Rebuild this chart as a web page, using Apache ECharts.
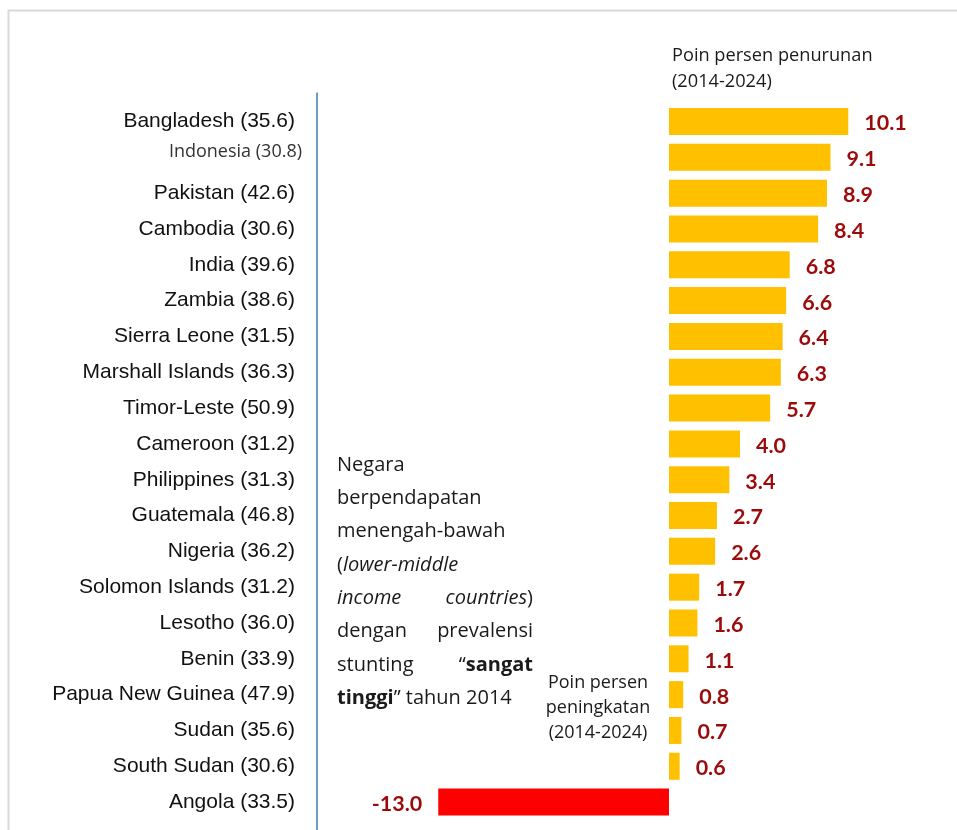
<!DOCTYPE html>
<html>
<head>
<meta charset="utf-8">
<title>Penurunan stunting 2014-2024</title>
<script src="https://cdn.jsdelivr.net/npm/echarts@6/dist/echarts.min.js"></script>
<style>
  html, body { margin: 0; padding: 0; background: #fff; }
  #chart { width: 957px; height: 830px; }
</style>
</head>
<body>
<div id="chart"></div>
<script>
// Countries (stunting prevalence 2014 in parentheses), top to bottom
const categories = [
  'Bangladesh (35.6)', 'Indonesia (30.8)', 'Pakistan (42.6)', 'Cambodia (30.6)',
  'India (39.6)', 'Zambia (38.6)', 'Sierra Leone (31.5)', 'Marshall Islands (36.3)',
  'Timor-Leste (50.9)', 'Cameroon (31.2)', 'Philippines (31.3)', 'Guatemala (46.8)',
  'Nigeria (36.2)', 'Solomon Islands (31.2)', 'Lesotho (36.0)', 'Benin (33.9)',
  'Papua New Guinea (47.9)', 'Sudan (35.6)', 'South Sudan (30.6)', 'Angola (33.5)'
];
// Percentage-point decrease 2014-2024 (negative = increase)
const changes = [
  10.1, 9.1, 8.9, 8.4, 6.8, 6.6, 6.4, 6.3, 5.7, 4.0,
  3.4, 2.7, 2.6, 1.7, 1.6, 1.1, 0.8, 0.7, 0.6, -13.0
];
// Label drawn in the highlighted style
const highlightedCategories = ['Indonesia (30.8)'];

// Layout
const W = 957, H = 830;
const unitPx = 17.75;           // pixels per percentage point
const xMin = -20, xMax = 15;
const zeroX = 669;
const gridLeft = zeroX + xMin * unitPx;      // 314
const gridWidth = (xMax - xMin) * unitPx;
const gridTop = 103.6, gridBottom = 10;
const sepX = gridLeft + 3;

const YELLOW = '#FFC000';
const RED = '#FF0000';
const VALUE_RED = '#9C0B0B';
const TEXT = '#1a1a1a';

const chart = echarts.init(document.getElementById('chart'), null, { renderer: 'canvas' });

const barData = changes.map(v => ({
  value: v,
  itemStyle: { color: v < 0 ? RED : YELLOW },
  label: { position: v < 0 ? 'left' : 'right' }
}));

// Annotation block (justified lines built from separate left/right pieces)
const blockLeft = 337, blockRight = 533, blockTop = 465, blockLine = 33.3;
const blockFont = 'Open Sans';
const blockSize = 20;
const rich = {
  n: { fontFamily: blockFont, fontSize: blockSize, color: TEXT },
  i: { fontFamily: blockFont, fontSize: blockSize, fontStyle: 'italic', color: TEXT },
  b: { fontFamily: blockFont, fontSize: blockSize, fontWeight: 'bold', color: TEXT }
};
const blockLines = [
  { left: '{n|Negara}' },
  { left: '{n|berpendapatan}' },
  { left: '{n|menengah-bawah}' },
  { left: '{n|(}{i|lower-middle}' },
  { left: '{i|income}', right: '{i|countries}{n|)}' },
  { left: '{n|dengan}', right: '{n|prevalensi}' },
  { left: '{n|stunting}', right: '{n|\u201C}{b|sangat}' },
  { left: '{b|tinggi}{n|\u201D tahun 2014}' }
];
const blockGraphics = [];
blockLines.forEach((ln, k) => {
  const y = blockTop + k * blockLine;
  blockGraphics.push({
    type: 'text', x: blockLeft, y: y,
    style: { text: ln.left, rich: rich, align: 'left', verticalAlign: 'middle', fill: TEXT }
  });
  if (ln.right) {
    blockGraphics.push({
      type: 'text', x: blockRight, y: y,
      style: { text: ln.right, rich: rich, align: 'right', verticalAlign: 'middle', fill: TEXT }
    });
  }
});

const option = {
  backgroundColor: '#fff',
  animation: false,
  grid: { left: gridLeft, top: gridTop, width: gridWidth, bottom: gridBottom, containLabel: false },
  xAxis: {
    type: 'value', min: xMin, max: xMax, show: false,
    splitLine: { show: false }
  },
  yAxis: {
    type: 'category',
    data: categories,
    inverse: true,
    axisLine: { show: false },
    axisTick: { show: false },
    splitLine: { show: false },
    axisLabel: {
      margin: 12,
      formatter: (val) => highlightedCategories.includes(val) ? '{hi|' + val + '}' : '{lab|' + val + '}',
      rich: {
        lab: { fontFamily: 'Liberation Sans, Arial', fontSize: 21, color: '#111', padding: [0, 7, 0, 0] },
        hi: { fontFamily: 'Open Sans', fontSize: 18, color: '#333', padding: [0, 0, 10, 0] }
      }
    }
  },
  series: [{
    type: 'bar',
    data: barData,
    barWidth: 27,
    label: {
      show: true,
      distance: 16,
      offset: [0, 2],
      fontFamily: 'Lato',
      fontWeight: 'bold',
      fontSize: 21.5,
      color: VALUE_RED,
      formatter: p => p.value.toFixed(1)
    }
  }],
  graphic: [
    // outer frame
    { type: 'rect', shape: { x: 8.5, y: 10.5, width: 1200, height: 1200 },
      style: { fill: 'none', stroke: '#DADADA', lineWidth: 2 }, silent: true },
    // separator between labels and plot
    { type: 'line', shape: { x1: sepX, y1: gridTop - 11, x2: sepX, y2: H },
      style: { stroke: '#3F7FA6', lineWidth: 1.5 }, silent: true },
    // heading above bars
    { type: 'text', x: 672, y: 69,
      style: { text: 'Poin persen penurunan\n(2014-2024)', fontFamily: 'Open Sans', fontSize: 18.2,
               lineHeight: 26, fill: TEXT, align: 'left', verticalAlign: 'middle' } },
    // note next to the increasing bar
    { type: 'text', x: 598, y: 708,
      style: { text: 'Poin persen\npeningkatan\n(2014-2024)', fontFamily: 'Open Sans', fontSize: 18,
               lineHeight: 25, fill: TEXT, align: 'center', verticalAlign: 'middle' } }
  ].concat(blockGraphics)
};

chart.setOption(option);
</script>
</body>
</html>
